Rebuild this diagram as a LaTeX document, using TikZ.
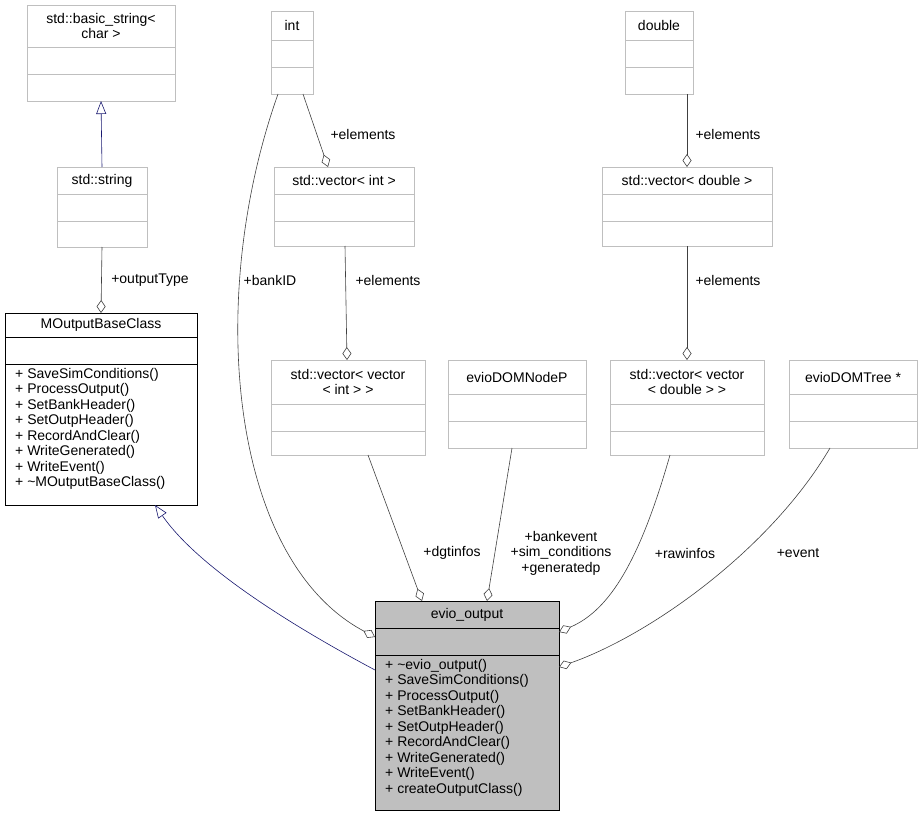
\documentclass[tikz,border=0pt]{standalone}
\usepackage{fontspec}
\setmainfont{Liberation Sans}
\usetikzlibrary{arrows.meta, calc}
\definecolor{boxc}{HTML}{BFBFBF}
\definecolor{edgec}{HTML}{404040}
\definecolor{inhc}{HTML}{191970}
\definecolor{evgray}{HTML}{BFBFBF}
\tikzset{
  umltxt/.style={font=\fontsize{14}{15.5}\selectfont, inner sep=0pt},
  agg/.style={draw=edgec, semithick, -{Diamond[open, length=13pt, width=9pt]}},
  inh/.style={draw=inhc, semithick, -{Triangle[open, length=13pt, width=10pt, fill=white]}},
  lbl/.style={umltxt, align=center}
}
% [style]{name}{x}{y}{w}{h}{title height}{title}{methods}
\newcommand{\umlbox}[9][draw=boxc]{%
  \node[#1, minimum width=#5pt, minimum height=#6pt, anchor=north west,
        inner sep=0pt, outer sep=0pt] (#2) at (#3,#4) {};
  \draw[#1] ($(#2.north west)+(0,#7)$) -- ($(#2.north east)+(0,#7)$);
  \draw[#1] ($(#2.north west)+(0,#7+27)$) -- ($(#2.north east)+(0,#7+27)$);
  \node[umltxt, align=center] (#2-t) at ($(#2.north)+(0,#7/2)$) {#8};
  \node[umltxt, align=left, anchor=north west] (#2-m) at ($(#2.north west)+(10,#7+31)$) {#9};
}
\begin{document}
\begin{tikzpicture}[x=1pt, y=-1pt, line join=miter]
\useasboundingbox (0,0) rectangle (923,816);

\umlbox{bstr}{27}{5}{148}{96}{42}{std::basic\_string<\\char >}{}
\umlbox{str}{57}{167}{90}{80}{27}{std::string}{}
\umlbox[draw=black]{mob}{5}{313}{192}{192}{24}{MOutputBaseClass}{%
+ SaveSimConditions()\\+ ProcessOutput()\\+ SetBankHeader()\\+ SetOutpHeader()\\%
+ RecordAndClear()\\+ WriteGenerated()\\+ WriteEvent()\\+ \textasciitilde MOutputBaseClass()}
\umlbox{int}{271}{11}{42}{83}{29}{int}{}
\umlbox{vint}{274}{167}{140}{79}{27}{std::vector< int >}{}
\umlbox{dbl}{625}{11}{68}{83}{29}{double}{}
\umlbox{vdbl}{602}{167}{170}{79}{27}{std::vector< double >}{}
\umlbox{vvint}{271}{360}{154}{95}{44}{std::vector< vector\\< int > >}{}
\umlbox{node}{448}{360}{138}{88}{34}{evioDOMNodeP}{}
\umlbox{vvdbl}{610}{360}{154}{95}{44}{std::vector< vector\\< double > >}{}
\umlbox{tree}{789}{360}{128}{88}{34}{evioDOMTree *}{}
\umlbox[draw=black, fill=evgray]{evio}{375}{601}{184}{209}{27}{evio\_output}{%
+ \textasciitilde evio\_output()\\+ SaveSimConditions()\\+ ProcessOutput()\\+ SetBankHeader()\\%
+ SetOutpHeader()\\+ RecordAndClear()\\+ WriteGenerated()\\+ WriteEvent()\\+ createOutputClass()}

% inheritance
\draw[inh] (str.north) -- (bstr.south);
\draw[inh] ($(evio.north west)+(0,69)$) .. controls (300,630) and (200,570) .. ($(mob.south west)+(150,0)$);

% aggregation
\draw[agg] (str.south) -- (mob.north);
\node[lbl] (l-out) at (150,280) {+outputType};
\draw[agg] ($(int.south west)+(7,0)$) .. controls (205,300) and (230,560) .. ($(evio.north west)+(0,36)$);
\node[lbl] (l-bank) at (270,280) {+bankID};
\draw[agg] ($(int.south west)+(32,0)$) -- ($(vint.north west)+(54,0)$);
\node[lbl] (l-e1) at (363,134) {+elements};
\draw[agg] ($(vint.south west)+(71,0)$) -- ($(vvint.north west)+(76,0)$);
\node[lbl] (l-e2) at (388,280) {+elements};
\draw[agg] ($(dbl.south west)+(62,0)$) -- ($(vdbl.north west)+(85,0)$);
\node[lbl] (l-e3) at (728,134) {+elements};
\draw[agg] ($(vdbl.south west)+(85,0)$) -- ($(vvdbl.north west)+(77,0)$);
\node[lbl] (l-e4) at (728,280) {+elements};
\draw[agg] ($(vvint.south west)+(97,0)$) -- ($(evio.north west)+(47,0)$);
\node[lbl] (l-dgt) at (452,553) {+dgtinfos};
\draw[agg] ($(node.south west)+(64,0)$) -- ($(evio.north west)+(112,0)$);
\node[lbl] (l-bk) at (561,553) {+bankevent\\+sim\_conditions\\+generatedp};
\draw[agg] ($(vvdbl.south west)+(60,0)$) .. controls (640,560) and (610,610) .. ($(evio.north east)+(0,31)$);
\node[lbl] (l-raw) at (685,553) {+rawinfos};
\draw[agg] ($(tree.south west)+(41,0)$) .. controls (770,550) and (650,635) .. ($(evio.north east)+(0,66)$);
\node[lbl] (l-ev) at (798,553) {+event};
\end{tikzpicture}
\end{document}
